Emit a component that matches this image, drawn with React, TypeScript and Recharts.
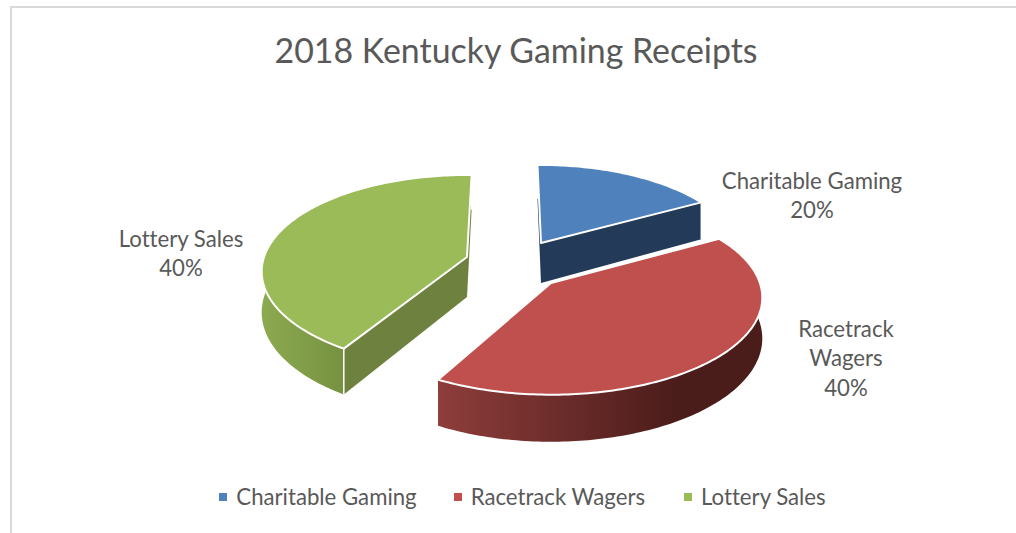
import React from "react";
import { PieChart, Pie, Legend } from "recharts";

const TITLE = "2018 Kentucky Gaming Receipts";
const CATEGORIES = ["Charitable Gaming", "Racetrack Wagers", "Lottery Sales"];
// Slice shares as drawn in the picture (the labels show rounded percentages).
const SHARES = [17.6, 41.2, 41.2];
const PERCENT_LABELS = ["20%", "40%", "40%"];
const COLORS = ["#4F81BD", "#C0504D", "#9BBB59"];

const data = CATEGORIES.map((name, i) => ({ name, value: SHARES[i], fill: COLORS[i] }));

// styling / layout of the 3D look
const FONT = "Lato, Carlito, sans-serif";
const TEXT = "#595959";
const TILT = [0.436, 0.45, 0.447];
const PERSP = [0.179, 0.15, 0.15];
const DEPTH = 40;
const EXPLODE = [
  [31, -12],
  [41, 28],
  [-43, 2],
];
const X_SCALE = [0.94, 0.99, 0.962];
// Small per-slice correction of the two ends, for the perspective of the exploded slices.
const ANGLE_NUDGE = [
  [-0.8, 0],
  [1.4, 1.7],
  [-2.3, -3.5],
];
const CUT_FACE = ["#243A59", "#5A1F1E", "#6E813F"];
const WALL_GRADIENT = [
  ["#243A59", "#243A59"],
  ["#8E3D3B", "#4A1C1A"],
  ["#8CAA50", "#748F3F"],
];
const LABEL_LINES = [["Charitable Gaming"], ["Racetrack", "Wagers"], ["Lottery Sales"]];
const LABEL_ANCHOR = [
  [812, 182.5],
  [846, 330.5],
  [181, 240.5],
];

function Slice3D(props: any) {
  const { cx, cy, outerRadius, startAngle, endAngle, index } = props;
  const [ox, oy] = EXPLODE[index];
  const rx = outerRadius * X_SCALE[index];
  const ry = outerRadius * TILT[index];
  const pt = (deg: number, r: number, z: number) => {
    const a = (deg * Math.PI) / 180;
    const u = Math.cos(a) * r;
    const v = Math.sin(a) * r;
    const s = 1 / (1 + PERSP[index] * v);
    return [cx + ox + rx * u * s, cy + oy - ry * v * s + DEPTH * z * s];
  };
  const hi = Math.max(startAngle, endAngle) + ANGLE_NUDGE[index][0];
  const lo = Math.min(startAngle, endAngle) + ANGLE_NUDGE[index][1];
  const steps = Math.ceil(hi - lo);
  const arc = (z: number) => {
    const out: number[][] = [];
    for (let k = 0; k <= steps; k++) out.push(pt(hi - ((hi - lo) * k) / steps, 1, z));
    return out;
  };
  const toPath = (pts: number[][]) =>
    "M" + pts.map((p) => `${p[0].toFixed(2)} ${p[1].toFixed(2)}`).join("L") + "Z";
  const top = arc(0);
  const bottom = arc(1);
  const apex = pt(0, 0, 0);
  const apexB = pt(0, 0, 1);
  const gid = `wall-${index}`;
  const faces: React.ReactNode[] = [];
  const addFace = (deg: number, key: string) => {
    const e = pt(deg, 1, 0);
    const b = pt(deg, 1, 1);
    faces.push(
      <g key={key}>
        <path d={toPath([apex, e, b, apexB])} fill={CUT_FACE[index]} />
        <line x1={e[0]} y1={e[1]} x2={b[0]} y2={b[1]} stroke="#fff" strokeWidth={1.5} />
      </g>
    );
  };
  if (Math.cos((hi * Math.PI) / 180) < 0) addFace(hi, "hi");
  if (Math.cos((lo * Math.PI) / 180) > 0) addFace(lo, "lo");
  const xs = top.map((p) => p[0]);
  return (
    <g>
      <defs>
        <linearGradient
          id={gid}
          gradientUnits="userSpaceOnUse"
          x1={Math.min(...xs)}
          x2={index === 1 ? 680 : Math.max(...xs) - 120}
          y1={0}
          y2={0}
        >
          <stop offset="0" stopColor={WALL_GRADIENT[index][0]} />
          <stop offset="1" stopColor={WALL_GRADIENT[index][1]} />
        </linearGradient>
      </defs>
      <path d={toPath([...top, ...bottom.slice().reverse()])} fill={`url(#${gid})`} />
      {faces}
      <path
        d={toPath([apex, ...top])}
        fill={COLORS[index]}
        stroke="#fff"
        strokeWidth={2}
        strokeLinejoin="round"
      />
    </g>
  );
}

function renderLabel(props: any) {
  const i = props.index;
  const [x, y] = LABEL_ANCHOR[i];
  const lines = [...LABEL_LINES[i], PERCENT_LABELS[i]];
  return (
    <text
      key={i}
      x={x}
      y={y}
      textAnchor="middle"
      dominantBaseline="middle"
      fill={TEXT}
      fontFamily={FONT}
      fontSize={22.2}
      style={{ fontVariantLigatures: "none" }}
    >
      {lines.map((l, k) => (
        <tspan key={k} x={x} y={y + k * 29.5}>
          {l}
        </tspan>
      ))}
    </text>
  );
}

const LEGEND_GAPS = [37, 39, 0];

function renderLegend(props: any) {
  const payload = props.payload || [];
  return (
    <div
      style={{
        display: "flex",
        justifyContent: "center",
        fontFamily: FONT,
        fontSize: 22.2,
        color: TEXT,
        lineHeight: "26px",
        fontVariantLigatures: "none",
      }}
    >
      {payload.map((e: any, i: number) => (
        <div key={i} style={{ display: "flex", alignItems: "center", marginRight: LEGEND_GAPS[i] }}>
          <span
            style={{ width: 8, height: 8, background: e.color, marginRight: 9, display: "inline-block" }}
          />
          {e.value}
        </div>
      ))}
    </div>
  );
}

export default function App() {
  return (
    <div style={{ position: "absolute", left: 0, top: 0, width: 1016, height: 533, background: "#fff" }}>
      <div style={{ position: "absolute", left: 10, top: 6, right: 0, bottom: 0, borderLeft: "2px solid #D9D9D9", borderTop: "2px solid #D9D9D9" }} />
      <div
        style={{
          position: "absolute",
          left: 0,
          width: 1032,
          top: 29,
          textAlign: "center",
          fontFamily: FONT,
          fontSize: 33.9,
          lineHeight: "42px",
          color: TEXT,
          fontVariantLigatures: "none",
        }}
      >
        {TITLE}
      </div>
      <div style={{ position: "absolute", left: 0, top: 0 }}>
        <PieChart width={1016} height={533} margin={{ top: 0, right: 0, bottom: 0, left: 0 }}>
          <Pie
            data={data}
            dataKey="value"
            nameKey="name"
            cx={510}
            cy={255}
            innerRadius={0}
            outerRadius={211}
            startAngle={92}
            endAngle={-268}
            stroke="none"
            isAnimationActive={false}
            shape={Slice3D}
            label={renderLabel}
            labelLine={false}
          />
          <Legend
            content={renderLegend}
            itemSorter={null}
            wrapperStyle={{ position: "absolute", left: 0, top: 484, width: 1045, height: 28 }}
          />
        </PieChart>
      </div>
    </div>
  );
}
